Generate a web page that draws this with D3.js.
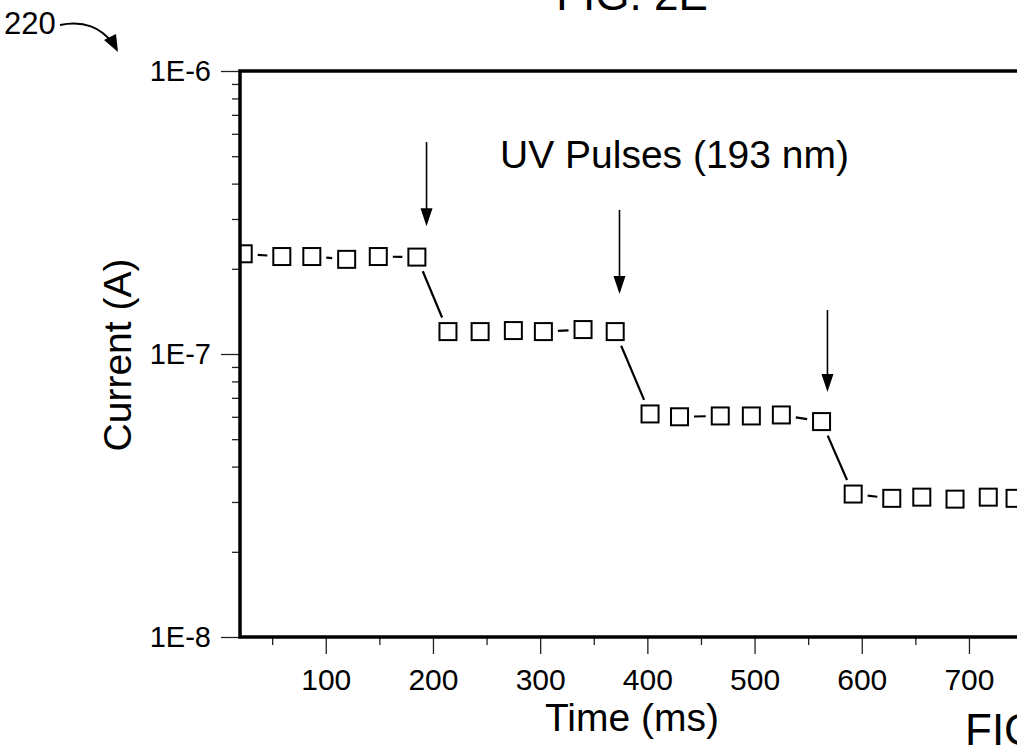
<!DOCTYPE html>
<html><head><meta charset="utf-8">
<script src="https://cdn.jsdelivr.net/npm/d3@7"></script>
<style>
body{margin:0;background:#fff}
svg{display:block}
text{font-family:Arial,"Liberation Sans",Helvetica,sans-serif;fill:#000}
</style>
</head><body>
<svg id="chart" width="1017" height="747"></svg>
<script>
// ---- data ----
const timeMs = [23, 59, 87, 119.5, 149, 185, 214, 244, 275, 303, 340, 370, 402.5, 430, 468, 497, 525, 562.5, 592, 628, 656, 687, 718, 743];
const currentA = [2.26e-7, 2.21e-7, 2.21e-7, 2.16e-7, 2.21e-7, 2.2e-7,
                  1.2e-7, 1.2e-7, 1.21e-7, 1.2e-7, 1.22e-7, 1.2e-7,
                  6.14e-8, 6.0e-8, 6.04e-8, 6.04e-8, 6.09e-8, 5.77e-8,
                  3.2e-8, 3.09e-8, 3.12e-8, 3.07e-8, 3.12e-8, 3.09e-8];
const pulseTimes = [194, 374, 568];
const arrowTop = [5.61e-7, 3.23e-7, 1.43e-7];
const arrowTip = [2.83e-7, 1.63e-7, 7.34e-8];
const xTickValues = [100, 200, 300, 400, 500, 600, 700, 800];
const xMinorValues = [50, 150, 250, 350, 450, 550, 650, 750];
const yTickValues = [1e-6, 1e-7, 1e-8];
const yTickLabels = ["1E-6", "1E-7", "1E-8"];
const xDomain = [20, 800];
const yDomain = [1e-8, 1e-6];

// ---- layout ----
const svg = d3.select("#chart");
const L = 240, T = 71, B = 637, R = 240 + 780 * 1.072;
const x = d3.scaleLinear().domain(xDomain).range([L, R]);
const y = d3.scaleLog().domain(yDomain).range([B, T]);
const FONT = "Arial, 'Liberation Sans', sans-serif";

// minor y ticks 2..9 per decade
const yMinor = [];
for (let e = -8; e < -6; e++) for (let k = 2; k <= 9; k++) yMinor.push(k * Math.pow(10, e));

const tickStyle = g => { g.select(".domain").remove(); g.selectAll("line").attr("stroke", "#222").attr("stroke-width", 1.3); };

svg.append("g").attr("transform", `translate(${L},0)`)
  .call(d3.axisLeft(y).tickValues(yMinor).tickSize(8).tickFormat(""))
  .call(tickStyle);
svg.append("g").attr("transform", `translate(${L},0)`)
  .call(d3.axisLeft(y).tickValues(yTickValues).tickSize(19).tickPadding(10)
        .tickFormat((d, i) => yTickLabels[i]))
  .call(tickStyle)
  .call(g => g.selectAll("text").attr("font-size", 29).attr("font-family", FONT));

svg.append("g").attr("transform", `translate(0,${B})`)
  .call(d3.axisBottom(x).tickValues(xMinorValues).tickSize(8).tickFormat(""))
  .call(tickStyle);
svg.append("g").attr("transform", `translate(0,${B})`)
  .call(d3.axisBottom(x).tickValues(xTickValues).tickSize(17).tickPadding(15).tickFormat(d3.format("d")))
  .call(tickStyle)
  .call(g => g.selectAll("text").attr("font-size", 30).attr("font-family", FONT));

// clip
svg.append("clipPath").attr("id", "plotclip")
  .append("rect").attr("x", L).attr("y", T).attr("width", R - L).attr("height", B - T);
const plot = svg.append("g").attr("clip-path", "url(#plotclip)");

// data: line segments with gaps around the square symbols
const pts = timeMs.map((t, i) => [x(t), y(currentA[i])]);
const half = 9.5, gap = 5;
const segs = [];
for (let i = 0; i < pts.length - 1; i++) {
  const [x1, y1] = pts[i], [x2, y2] = pts[i + 1];
  const dx = x2 - x1, dy = y2 - y1, len = Math.hypot(dx, dy);
  const edge = half * len / Math.max(Math.abs(dx), Math.abs(dy));
  const cut = edge + gap;
  if (len - 2 * cut < 4.5) continue;
  const ux = dx / len, uy = dy / len;
  segs.push([x1 + ux * cut, y1 + uy * cut, x2 - ux * cut, y2 - uy * cut]);
}
plot.selectAll("line.seg").data(segs).join("line").attr("class", "seg")
  .attr("x1", d => d[0]).attr("y1", d => d[1]).attr("x2", d => d[2]).attr("y2", d => d[3])
  .attr("stroke", "#000").attr("stroke-width", 2.2);
plot.selectAll("rect.pt").data(pts).join("rect").attr("class", "pt")
  .attr("x", d => d[0] - 8.5).attr("y", d => d[1] - 8.5)
  .attr("width", 17).attr("height", 17)
  .attr("fill", "none").attr("stroke", "#000").attr("stroke-width", 2);

// frame
svg.append("rect").attr("x", L).attr("y", T).attr("width", R - L).attr("height", B - T)
  .attr("fill", "none").attr("stroke", "#000").attr("stroke-width", 3.5);

// arrows marking the pulses
const arrows = svg.append("g");
pulseTimes.forEach((t, i) => {
  const ax = x(t), y0 = y(arrowTop[i]), y1 = y(arrowTip[i]);
  arrows.append("line").attr("x1", ax).attr("x2", ax).attr("y1", y0).attr("y2", y1 - 14)
    .attr("stroke", "#000").attr("stroke-width", 1.6);
  arrows.append("path").attr("d", `M${ax - 6},${y1 - 18}L${ax + 6},${y1 - 18}L${ax},${y1}Z`).attr("fill", "#000");
});

// annotation text
svg.append("text").attr("x", 500).attr("y", 168).attr("font-size", 39).text("UV Pulses (193 nm)");

// axis titles
svg.append("text").attr("transform", "translate(131,355) rotate(-90)").attr("text-anchor", "middle")
  .attr("font-size", 39).text("Current (A)");
svg.append("text").attr("x", 632).attr("y", 731).attr("text-anchor", "middle")
  .attr("font-size", 39).text("Time (ms)");

// figure labels
svg.append("text").attr("x", 632).attr("y", 10).attr("text-anchor", "middle").attr("font-size", 44).text("FIG. 2E");
svg.append("text").attr("x", 965).attr("y", 745).attr("font-size", 44).text("FIG. 2E");
svg.append("text").attr("x", 4).attr("y", 34).attr("font-size", 31).text("220");
svg.append("path").attr("d", "M60,25 C85,20 100,28 112,42").attr("fill", "none").attr("stroke", "#000").attr("stroke-width", 2);
svg.append("path").attr("d", "M104,40 L116,34 L118,52 Z").attr("fill", "#000");
</script>
</body></html>
